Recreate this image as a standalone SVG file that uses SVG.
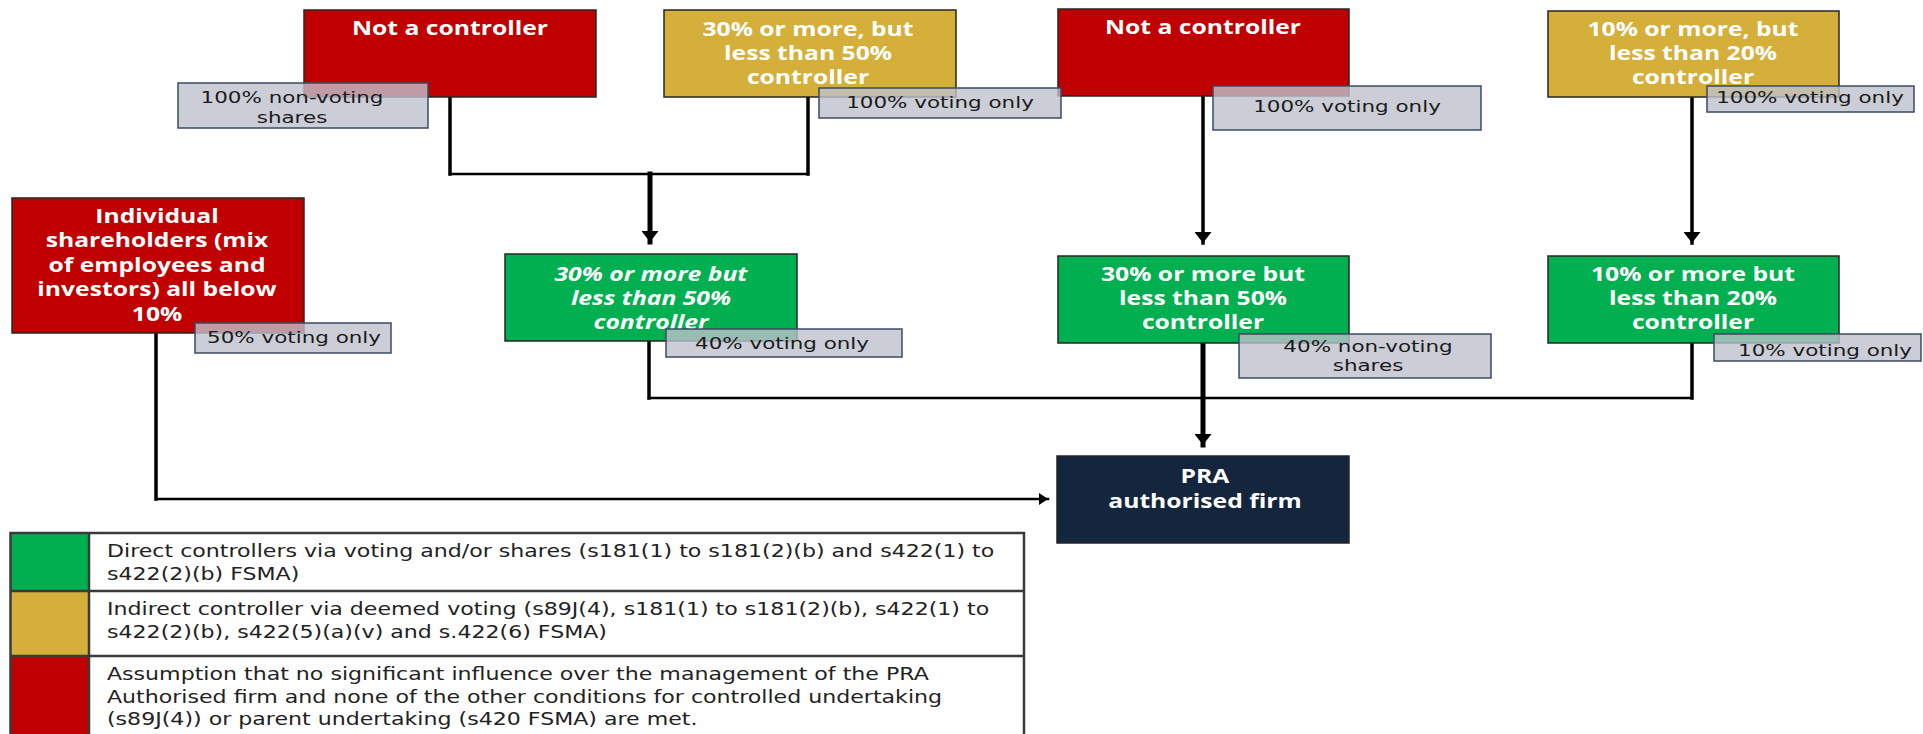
<svg xmlns="http://www.w3.org/2000/svg" width="1923" height="734" viewBox="0 0 1923 734">
<style>
.box{stroke:#262626;stroke-width:1.5}
.red{fill:#C00000}
.gold{fill:#D4AF3A}
.green{fill:#00B050}
.navy{fill:#14253E}
.lbl{fill:#BEC2CC;fill-opacity:0.8;stroke:#3B4A63;stroke-width:1.5}
.tt{font-family:"Open Sans","Liberation Sans",sans-serif;font-weight:700;font-size:19px;fill:#ffffff;text-anchor:middle}
.it{font-style:italic}
.lt{font-family:"DejaVu Sans","Liberation Sans",sans-serif;font-size:16.5px;fill:#1a1a1a;text-anchor:middle}
.gt{font-family:"DejaVu Sans","Liberation Sans",sans-serif;font-size:17px;fill:#222222}
.cn{fill:none;stroke:#000000;stroke-linecap:square}
.h{stroke-width:2.5}
.v{stroke-width:3.5}
.vt{stroke-width:5}
.grid{fill:none;stroke:#3a3a3a;stroke-width:2.5}
</style>
<defs>
<marker id="ah" markerUnits="userSpaceOnUse" markerWidth="12" markerHeight="17" refX="11" refY="8.5" orient="auto">
<path d="M0,0 L11,8.5 L0,17 z" fill="#000000"/>
</marker>
<marker id="ahs" markerUnits="userSpaceOnUse" markerWidth="10" markerHeight="12" refX="9" refY="6" orient="auto">
<path d="M0,0 L9,6 L0,12 z" fill="#000000"/>
</marker>
</defs>
<rect width="1923" height="734" fill="#ffffff"/>

<g id="connectors">
<line class="cn v" x1="450" y1="97" x2="450" y2="174"/>
<line class="cn v" x1="808" y1="97" x2="808" y2="174"/>
<line class="cn h" x1="450" y1="174" x2="808" y2="174"/>
<line class="cn vt" x1="650" y1="174" x2="650" y2="242" marker-end="url(#ah)"/>
<line class="cn v" x1="1203" y1="96" x2="1203" y2="243" marker-end="url(#ah)"/>
<line class="cn v" x1="1692" y1="97" x2="1692" y2="243" marker-end="url(#ah)"/>
<line class="cn v" x1="649" y1="341" x2="649" y2="398"/>
<line class="cn v" x1="1692" y1="343" x2="1692" y2="398"/>
<line class="cn h" x1="649" y1="398" x2="1692" y2="398"/>
<line class="cn vt" x1="1203" y1="343" x2="1203" y2="445" marker-end="url(#ah)"/>
<line class="cn v" x1="156" y1="333" x2="156" y2="499"/>
<line class="cn h" x1="156" y1="499" x2="1048" y2="499" marker-end="url(#ahs)"/>
</g>

<g id="nc1">
<rect class="box red" x="304" y="10" width="292" height="87"/>
<text class="tt" transform="translate(450 0) scale(1.3 1)" y="35">Not a controller</text>
</g>
<g id="y1">
<rect class="box gold" x="664" y="10" width="292" height="87"/>
<text class="tt" transform="translate(808 0) scale(1.3 1)"><tspan x="0" y="36">30% or more, but</tspan><tspan x="0" y="60">less than 50%</tspan><tspan x="0" y="84">controller</tspan></text>
</g>
<g id="nc2">
<rect class="box red" x="1058" y="9" width="291" height="87"/>
<text class="tt" transform="translate(1203 0) scale(1.3 1)" y="34">Not a controller</text>
</g>
<g id="y2">
<rect class="box gold" x="1548" y="11" width="291" height="86"/>
<text class="tt" transform="translate(1693 0) scale(1.3 1)"><tspan x="0" y="36">10% or more, but</tspan><tspan x="0" y="60">less than 20%</tspan><tspan x="0" y="84">controller</tspan></text>
</g>
<g id="ind">
<rect class="box red" x="12" y="198" width="292" height="135"/>
<text class="tt" transform="translate(157 0) scale(1.3 1)"><tspan x="0" y="223">Individual</tspan><tspan x="0" y="247">shareholders (mix</tspan><tspan x="0" y="272">of employees and</tspan><tspan x="0" y="296">investors) all below</tspan><tspan x="0" y="321">10%</tspan></text>
</g>
<g id="g1">
<rect class="box green" x="505" y="254" width="292" height="87"/>
<text class="tt it" transform="translate(651 0) scale(1.3 1)"><tspan x="0" y="281">30% or more but</tspan><tspan x="0" y="305">less than 50%</tspan><tspan x="0" y="329">controller</tspan></text>
</g>
<g id="g2">
<rect class="box green" x="1058" y="256" width="291" height="87"/>
<text class="tt" transform="translate(1203 0) scale(1.3 1)"><tspan x="0" y="281">30% or more but</tspan><tspan x="0" y="305">less than 50%</tspan><tspan x="0" y="329">controller</tspan></text>
</g>
<g id="g3">
<rect class="box green" x="1548" y="256" width="291" height="87"/>
<text class="tt" transform="translate(1693 0) scale(1.3 1)"><tspan x="0" y="281">10% or more but</tspan><tspan x="0" y="305">less than 20%</tspan><tspan x="0" y="329">controller</tspan></text>
</g>
<g id="pra">
<rect class="box navy" x="1057" y="456" width="292" height="87"/>
<text class="tt" transform="translate(1205 0) scale(1.3 1)"><tspan x="0" y="483">PRA</tspan><tspan x="0" y="508">authorised firm</tspan></text>
</g>

<g id="lbl1">
<rect class="lbl" x="178" y="83" width="250" height="45"/>
<text class="lt" transform="translate(292 0) scale(1.3 1)"><tspan x="0" y="103">100% non-voting</tspan><tspan x="0" y="123">shares</tspan></text>
</g>
<g id="lbl2">
<rect class="lbl" x="819" y="88" width="242" height="30"/>
<text class="lt" transform="translate(940 0) scale(1.3 1)" y="108">100% voting only</text>
</g>
<g id="lbl3">
<rect class="lbl" x="1213" y="86" width="268" height="44"/>
<text class="lt" transform="translate(1347 0) scale(1.3 1)" y="112">100% voting only</text>
</g>
<g id="lbl4">
<rect class="lbl" x="1707" y="86" width="207" height="26"/>
<text class="lt" transform="translate(1810 0) scale(1.3 1)" y="103">100% voting only</text>
</g>
<g id="lbl5">
<rect class="lbl" x="195" y="323" width="196" height="30"/>
<text class="lt" transform="translate(294 0) scale(1.3 1)" y="343">50% voting only</text>
</g>
<g id="lbl6">
<rect class="lbl" x="666" y="329" width="236" height="28"/>
<text class="lt" transform="translate(782 0) scale(1.3 1)" y="349">40% voting only</text>
</g>
<g id="lbl7">
<rect class="lbl" x="1239" y="334" width="252" height="44"/>
<text class="lt" transform="translate(1368 0) scale(1.3 1)"><tspan x="0" y="352">40% non-voting</tspan><tspan x="0" y="371">shares</tspan></text>
</g>
<g id="lbl8">
<rect class="lbl" x="1714" y="334" width="207" height="27"/>
<text class="lt" transform="translate(1825 0) scale(1.3 1)" y="356">10% voting only</text>
</g>

<g id="legend">
<rect x="10.5" y="533" width="1013.5" height="215" fill="#ffffff"/>
<rect class="green" x="10.5" y="533" width="78.5" height="58"/>
<rect class="gold" x="10.5" y="591" width="78.5" height="65"/>
<rect class="red" x="10.5" y="656" width="78.5" height="92"/>
<rect class="grid" x="10.5" y="533" width="1013.5" height="215"/>
<line class="grid" x1="89" y1="533" x2="89" y2="748"/>
<line class="grid" x1="10.5" y1="591" x2="1024" y2="591"/>
<line class="grid" x1="10.5" y1="656" x2="1024" y2="656"/>
<text class="gt" transform="translate(107 0) scale(1.3 1)"><tspan x="0" y="557">Direct controllers via voting and/or shares (s181(1) to s181(2)(b) and s422(1) to</tspan><tspan x="0" y="580">s422(2)(b) FSMA)</tspan></text>
<text class="gt" transform="translate(107 0) scale(1.3 1)"><tspan x="0" y="615">Indirect controller via deemed voting (s89J(4), s181(1) to s181(2)(b), s422(1) to</tspan><tspan x="0" y="638">s422(2)(b), s422(5)(a)(v) and s.422(6) FSMA)</tspan></text>
<text class="gt" transform="translate(107 0) scale(1.3 1)"><tspan x="0" y="680">Assumption that no significant influence over the management of the PRA</tspan><tspan x="0" y="703">Authorised firm and none of the other conditions for controlled undertaking</tspan><tspan x="0" y="725">(s89J(4)) or parent undertaking (s420 FSMA) are met.</tspan></text>
</g>
</svg>
